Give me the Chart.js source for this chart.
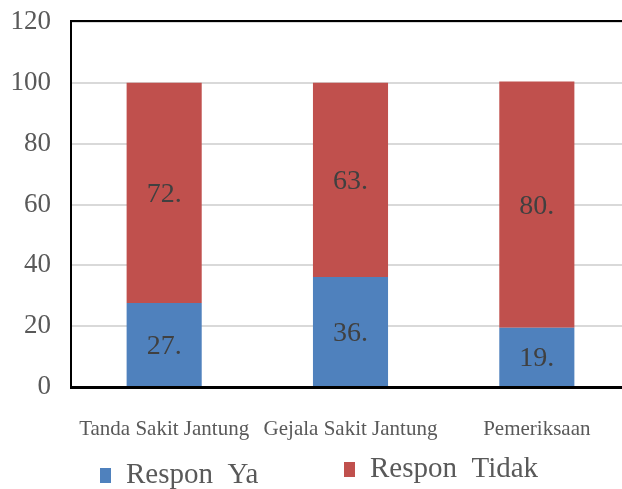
<!DOCTYPE html>
<html lang="en">
<head>
  <meta charset="UTF-8">
  <title>Respon Ya / Tidak</title>
  <script src="https://cdn.jsdelivr.net/npm/chart.js"></script>
  <style>
    html, body { margin: 0; padding: 0; background: #fff; overflow: hidden; }
    #wrap { width: 630px; height: 489px; }
  </style>
</head>
<body>
  <div id="wrap"><canvas id="chart" width="630" height="489"></canvas></div>
  <script>
    // data
    const categories = ['Tanda Sakit Jantung', 'Gejala Sakit Jantung', 'Pemeriksaan'];
    const responYa = [27.6, 36.2, 19.5];
    const responTidak = [72.4, 63.8, 80.9];
    const seriesNames = ['Respon  Ya', 'Respon  Tidak'];
    const seriesColors = ['#4F81BD', '#C0504D'];

    const serif = "'Liberation Serif', 'Times New Roman', serif";

    // value labels inside each segment (shown cut off, as in the original)
    const barLabels = {
      id: 'barLabels',
      afterDatasetsDraw(chart) {
        const ctx = chart.ctx;
        ctx.save();
        ctx.font = '28px ' + serif;
        ctx.fillStyle = '#404040';
        ctx.textAlign = 'center';
        ctx.textBaseline = 'middle';
        chart.data.datasets.forEach((ds, i) => {
          chart.getDatasetMeta(i).data.forEach((bar, j) => {
            const y = (bar.y + bar.base) / 2 + 2;
            ctx.fillText(Math.trunc(ds.data[j]) + '.', bar.x, y);
          });
        });
        ctx.restore();
      }
    };

    // top frame line + legend
    const extras = {
      id: 'extras',
      afterDraw(chart) {
        const ctx = chart.ctx;
        const a = chart.chartArea;
        ctx.save();
        ctx.strokeStyle = '#000';
        ctx.lineWidth = 2;
        ctx.beginPath();
        ctx.moveTo(a.left - 1, a.top - 1);
        ctx.lineTo(a.right + 10, a.top - 1);
        ctx.stroke();

        const spots = [{ x: 100, y: 475 }, { x: 344, y: 469 }];
        ctx.font = '29px ' + serif;
        ctx.textBaseline = 'middle';
        chart.data.datasets.forEach((ds, i) => {
          const p = spots[i];
          ctx.fillStyle = ds.backgroundColor;
          ctx.fillRect(p.x, p.y - 7, 11, 15);
          ctx.fillStyle = '#595959';
          ctx.fillText(ds.label, p.x + 26, p.y);
        });
        ctx.restore();
      }
    };

    new Chart(document.getElementById('chart'), {
      type: 'bar',
      data: {
        labels: categories,
        datasets: [
          { label: seriesNames[0], data: responYa, backgroundColor: seriesColors[0] },
          { label: seriesNames[1], data: responTidak, backgroundColor: seriesColors[1] }
        ]
      },
      options: {
        responsive: false,
        animation: false,
        layout: { padding: { top: 22, right: 0, left: 0, bottom: 0 } },
        datasets: { bar: { categoryPercentage: 1, barPercentage: 0.403 } },
        plugins: {
          legend: { display: false },
          tooltip: { enabled: false }
        },
        scales: {
          x: {
            stacked: true,
            grid: { display: false },
            border: { color: '#000', width: 3 },
            ticks: { color: '#595959', font: { family: serif, size: 21 }, padding: 22, maxRotation: 0 },
            afterFit(scale) { scale.height = 102; }
          },
          y: {
            stacked: true,
            min: 0,
            max: 120,
            ticks: { stepSize: 20, color: '#595959', font: { family: serif, size: 27 }, padding: 20 },
            grid: { color: '#d9d9d9', lineWidth: 2, drawTicks: false },
            border: { color: '#000', width: 2 },
            afterFit(scale) {
              scale.width = 71;
              scale.paddingTop = 0;
              scale.paddingBottom = 0;
            }
          }
        }
      },
      plugins: [barLabels, extras]
    });
  </script>
</body>
</html>
